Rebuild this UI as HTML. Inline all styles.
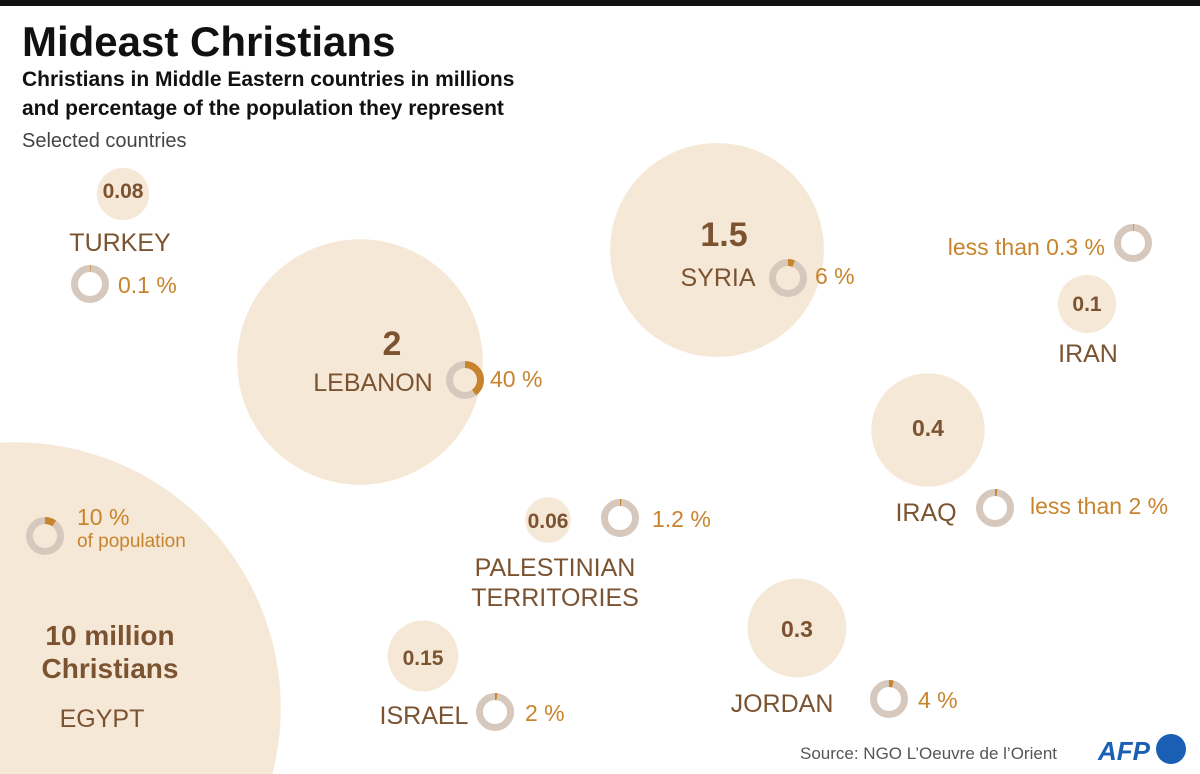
<!DOCTYPE html>
<html><head><meta charset="utf-8"><style>
html,body{margin:0;padding:0;background:#fff;width:1200px;height:774px;overflow:hidden;}
svg{display:block;font-family:"Liberation Sans",sans-serif;}
</style></head><body>
<svg id="chart" width="1200" height="774" viewBox="0 0 1200 774">
<rect x="0" y="0" width="1200" height="6" fill="#111"/>
<text x="22" y="56" font-weight="bold" font-size="42" fill="#111">Mideast Christians</text>
<text x="22" y="86" font-weight="bold" font-size="21" fill="#111">Christians in Middle Eastern countries in millions</text>
<text x="22" y="115" font-weight="bold" font-size="21" fill="#111">and percentage of the population they represent</text>
<text x="22" y="147" font-size="20" fill="#444">Selected countries</text>
<g id="marks"></g>
<text x="800" y="759" font-size="17" fill="#555">Source: NGO L’Oeuvre de l’Orient</text>
<text x="1098" y="760" font-weight="bold" font-style="italic" font-size="26" fill="#1a5fb4">AFP</text>
<circle cx="1171" cy="749" r="15" fill="#1a5fb4"/>
</svg>
<script>
const countries = ["EGYPT","LEBANON","SYRIA","TURKEY","IRAN","IRAQ","PALESTINIAN TERRITORIES","JORDAN","ISRAEL"];
const millions = [10, 2, 1.5, 0.08, 0.1, 0.4, 0.06, 0.3, 0.15];
const valueLabels = ["10 million|Christians","2","1.5","0.08","0.1","0.4","0.06","0.3","0.15"];
const percents = [10, 40, 6, 0.1, 0.3, 2, 1.2, 4, 2];
const percentLabels = ["10 %","40 %","6 %","0.1 %","less than 0.3 %","less than 2 %","1.2 %","4 %","2 %"];
// layout (positions only)
const bubbleCenters = [[15,708],[360,362],[717,250],[123,194],[1087,304],[928,430],[548,520],[797,628],[423,656]];
const valueLabelPos = [[110,645],[392,355],[724,246],[123,198],[1087,311],[928,436],[548,528],[797,637],[423,665]];
const nameLabelPos = [[102,727],[373,391],[718,286],[120,251],[1088,362],[926,521],[555,576],[782,712],[424,724]];
const donutPos = [[45,536],[465,380],[788,278],[90,284],[1133,243],[995,508],[620,518],[889,699],[495,712]];
const pctLabelPos = [[77,525,"start"],[490,387,"start"],[815,284,"start"],[118,293,"start"],[1105,255,"end"],[1030,514,"start"],[652,527,"start"],[918,708,"start"],[525,721,"start"]];
const valueSizes = [28,34,34,21,21,23,21,23,21];

const rScale = v => 88*Math.pow(v,0.48);
const NS="http://www.w3.org/2000/svg";
const g=document.getElementById('marks');
function mk(tag,attrs,parent){const e=document.createElementNS(NS,tag);for(const k in attrs)e.setAttribute(k,attrs[k]);(parent||g).appendChild(e);return e;}
const BROWN="#7b5331", ORANGE="#c8842c";
millions.forEach((v,i)=>{
  const c=mk('circle',{cx:bubbleCenters[i][0],cy:bubbleCenters[i][1],r:rScale(v),fill:"#f6e8d7"});
  
  
});
millions.forEach((v,i)=>{
  const key=countries[i].toLowerCase().replace(/ /g,'-');
  const lines=valueLabels[i].split('|');
  lines.forEach((ln,j)=>{
    const t=mk('text',{x:valueLabelPos[i][0],y:valueLabelPos[i][1]+j*33,'text-anchor':'middle','font-weight':'bold','font-size':valueSizes[i],fill:BROWN});
    t.textContent=ln;
    
    
  });
  const names = countries[i]==="PALESTINIAN TERRITORIES"?["PALESTINIAN","TERRITORIES"]:[countries[i]];
  names.forEach((nm,j)=>{
    const t=mk('text',{x:nameLabelPos[i][0],y:nameLabelPos[i][1]+j*30,'text-anchor':'middle','font-size':25,fill:BROWN});
    t.textContent=nm;
    
    
  });
  const [dx,dy]=donutPos[i]; const r=15.5, C=2*Math.PI*r;
  const bg=mk('circle',{cx:dx,cy:dy,r:r,fill:'none',stroke:'#d6c8bc','stroke-width':7});
  
  
  const p=Math.max(percents[i],0.6)/100;
  const arc=mk('circle',{cx:dx,cy:dy,r:r,fill:'none',stroke:ORANGE,'stroke-width':7,'stroke-dasharray':(C*p)+' '+C,transform:'rotate(-90 '+dx+' '+dy+')'});
  
  
  const pl=pctLabelPos[i];
  const t=mk('text',{x:pl[0],y:pl[1],'text-anchor':pl[2],'font-size':23,fill:ORANGE});
  t.textContent=percentLabels[i];
  
  
});
const op=mk('text',{x:77,y:547,'font-size':19,fill:ORANGE});
op.textContent="of population";


</script>
</body></html>
